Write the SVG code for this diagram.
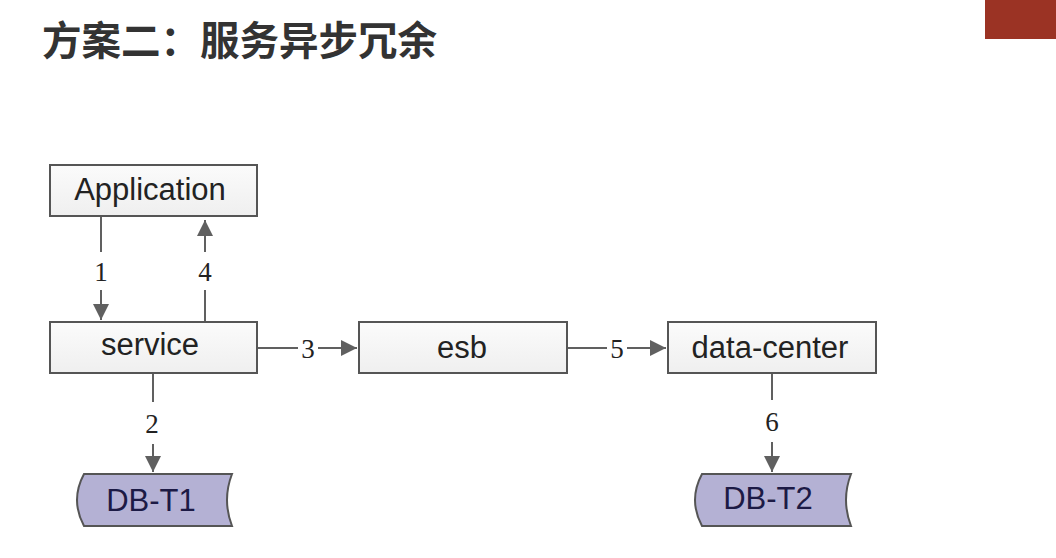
<svg xmlns="http://www.w3.org/2000/svg" width="1056" height="558" viewBox="0 0 1056 558">
<defs>
<linearGradient id="boxg" x1="0" y1="0" x2="0" y2="1"><stop offset="0" stop-color="#fbfbfb"/><stop offset="1" stop-color="#efefef"/></linearGradient>
<marker id="ah" viewBox="0 0 10 10" refX="10" refY="5" markerWidth="16" markerHeight="16" markerUnits="userSpaceOnUse" orient="auto"><path d="M0,0 L10,5 L0,10 z" fill="#606060"/></marker>
</defs>
<style>
.box{fill:url(#boxg);stroke:#555;stroke-width:2}
.db{fill:#b4b1d4;stroke:#555;stroke-width:2}
.t{font-family:"Liberation Sans",Arial,sans-serif;font-size:31px;fill:#222;text-anchor:middle}
.dbt{font-family:"Liberation Sans",Arial,sans-serif;font-size:31px;fill:#1c1a45;text-anchor:middle}
.n{font-family:"Liberation Serif","Times New Roman",serif;font-size:27px;fill:#222;text-anchor:middle}
.c{stroke:#606060;stroke-width:2;fill:none}
</style>
<rect width="1056" height="558" fill="#fff"/>
<rect x="985" y="0" width="71" height="39" fill="#9b3324"/>
<text x="42" y="55" font-family="'Noto Sans CJK SC','Noto Sans',sans-serif" font-size="39.5" font-weight="bold" fill="#333">方案二：服务异步冗余</text>

<g id="connectors">
<line class="c" x1="101" y1="217" x2="101" y2="252"/>
<text class="n" x="101" y="281">1</text>
<line class="c" x1="101" y1="290" x2="101" y2="320" marker-end="url(#ah)"/>
<line class="c" x1="205" y1="321" x2="205" y2="290"/>
<text class="n" x="205" y="281">4</text>
<line class="c" x1="205" y1="252" x2="205" y2="220" marker-end="url(#ah)"/>
<line class="c" x1="258" y1="348" x2="298" y2="348"/>
<text class="n" x="308" y="358">3</text>
<line class="c" x1="318" y1="348" x2="357" y2="348" marker-end="url(#ah)"/>
<line class="c" x1="568" y1="348" x2="607" y2="348"/>
<text class="n" x="617" y="358">5</text>
<line class="c" x1="627" y1="348" x2="666" y2="348" marker-end="url(#ah)"/>
<line class="c" x1="153" y1="374" x2="153" y2="402"/>
<text class="n" x="152" y="433">2</text>
<line class="c" x1="153" y1="444" x2="153" y2="472" marker-end="url(#ah)"/>
<line class="c" x1="772" y1="374" x2="772" y2="400"/>
<text class="n" x="772" y="431">6</text>
<line class="c" x1="772" y1="442" x2="772" y2="472" marker-end="url(#ah)"/>
</g>

<g id="application"><rect class="box" x="50" y="165" width="207" height="51"/><text class="t" x="150" y="200">Application</text></g>
<g id="service"><rect class="box" x="50" y="322" width="207" height="51"/><text class="t" x="150" y="355">service</text></g>
<g id="esb"><rect class="box" x="359" y="322" width="208" height="51"/><text class="t" x="462" y="358">esb</text></g>
<g id="data-center"><rect class="box" x="668" y="322" width="208" height="51"/><text class="t" x="770" y="358">data-center</text></g>
<g id="db-t1"><path class="db" d="M84,474 L232,474 Q222,500 232,526 L84,526 Q70,500 84,474 Z"/><text class="dbt" x="151" y="511">DB-T1</text></g>
<g id="db-t2"><path class="db" d="M702,474 L851,474 Q841,500 851,526 L702,526 Q688,500 702,474 Z"/><text class="dbt" x="768" y="509">DB-T2</text></g>
</svg>
